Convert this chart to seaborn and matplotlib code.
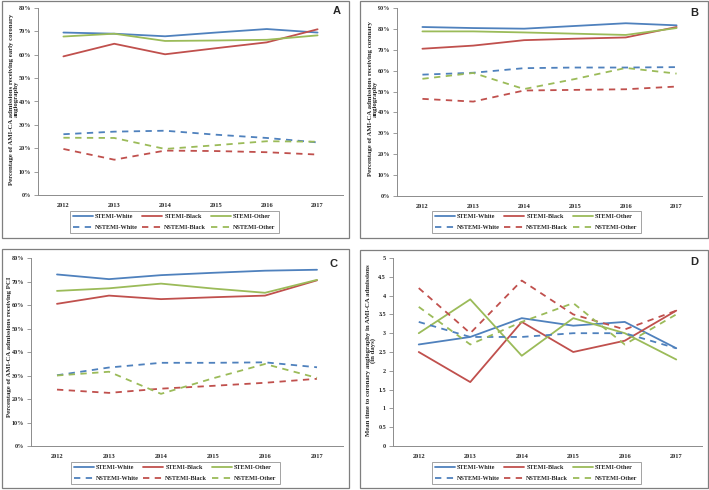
import numpy as np
import pandas as pd
import seaborn as sns
import matplotlib.pyplot as plt
from matplotlib.lines import Line2D
from matplotlib.patches import Rectangle
from matplotlib.ticker import FixedLocator, FuncFormatter

years = [2012, 2013, 2014, 2015, 2016, 2017]
series = ['STEMI-White', 'STEMI-Black', 'STEMI-Other',
          'NSTEMI-White', 'NSTEMI-Black', 'NSTEMI-Other']

# Panel A - early coronary angiography (%)
a_stemi_white = [69.5, 69.0, 67.9, 69.5, 71.0, 69.5]
a_stemi_black = [59.3, 64.7, 60.2, 62.8, 65.3, 70.9]
a_stemi_other = [67.8, 69.0, 65.9, 66.1, 66.4, 68.3]
a_nstemi_white = [26.0, 27.1, 27.5, 25.8, 24.4, 22.5]
a_nstemi_black = [19.7, 15.1, 19.0, 18.8, 18.3, 17.3]
a_nstemi_other = [24.5, 24.4, 19.7, 21.3, 23.0, 22.8]

# Panel B - coronary angiography (%)
b_stemi_white = [80.9, 80.4, 80.1, 81.4, 82.7, 81.7]
b_stemi_black = [70.5, 72.0, 74.6, 75.3, 75.9, 80.9]
b_stemi_other = [78.8, 78.8, 78.3, 77.7, 77.1, 80.4]
b_nstemi_white = [58.1, 59.0, 61.2, 61.5, 61.5, 61.7]
b_nstemi_black = [46.5, 45.2, 50.5, 50.8, 51.1, 52.4]
b_nstemi_other = [56.1, 58.9, 51.2, 56.0, 61.3, 58.6]

# Panel C - PCI (%)
c_stemi_white = [73.0, 71.0, 72.7, 73.7, 74.6, 75.0]
c_stemi_black = [60.5, 64.0, 62.5, 63.3, 64.0, 70.5]
c_stemi_other = [66.0, 67.1, 69.1, 67.0, 65.2, 70.7]
c_nstemi_white = [30.1, 33.4, 35.4, 35.4, 35.6, 33.5]
c_nstemi_black = [24.0, 22.6, 24.4, 25.6, 26.9, 28.6]
c_nstemi_other = [30.0, 31.6, 22.2, 28.8, 34.9, 29.0]

# Panel D - mean time to angiography (days)
d_stemi_white = [2.7, 2.9, 3.4, 3.2, 3.3, 2.6]
d_stemi_black = [2.5, 1.7, 3.3, 2.5, 2.8, 3.6]
d_stemi_other = [3.0, 3.9, 2.4, 3.4, 3.0, 2.3]
d_nstemi_white = [3.3, 2.9, 2.9, 3.0, 3.0, 2.6]
d_nstemi_black = [4.2, 3.0, 4.4, 3.5, 3.1, 3.6]
d_nstemi_other = [3.7, 2.7, 3.3, 3.8, 2.7, 3.5]

ylabels = {
    'A': 'Percentage of AMI-CA admissions receiving early coronary\nangiography',
    'B': 'Percentage of AMI-CA admissions receiving coronary\nangiography',
    'C': 'Percentage of AMI-CA admissions receiving PCI',
    'D': 'Mean time to coronary angiography in AMI-CA admissions\n(in days)',
}

palette = {'STEMI-White': '#4F81BD', 'STEMI-Black': '#C0504D', 'STEMI-Other': '#9BBB59',
           'NSTEMI-White': '#4F81BD', 'NSTEMI-Black': '#C0504D', 'NSTEMI-Other': '#9BBB59'}
dash_map = {'STEMI-White': '', 'STEMI-Black': '', 'STEMI-Other': '',
            'NSTEMI-White': (3.5, 3), 'NSTEMI-Black': (3.5, 3), 'NSTEMI-Other': (3.5, 3)}


def make_df(vals):
    rows = []
    for name, v in zip(series, vals):
        for yr, val in zip(years, v):
            rows.append({'year': yr, 'value': val, 'series': name})
    return pd.DataFrame(rows)


panels = {
    'A': make_df([a_stemi_white, a_stemi_black, a_stemi_other, a_nstemi_white, a_nstemi_black, a_nstemi_other]),
    'B': make_df([b_stemi_white, b_stemi_black, b_stemi_other, b_nstemi_white, b_nstemi_black, b_nstemi_other]),
    'C': make_df([c_stemi_white, c_stemi_black, c_stemi_other, c_nstemi_white, c_nstemi_black, c_nstemi_other]),
    'D': make_df([d_stemi_white, d_stemi_black, d_stemi_other, d_nstemi_white, d_nstemi_black, d_nstemi_other]),
}

sns.set_style('white')
plt.rcParams['font.family'] = ['Liberation Serif', 'DejaVu Serif']
plt.rcParams['font.weight'] = 'bold'

W, H = 709, 490
fig = plt.figure(figsize=(W / 100, H / 100), dpi=100)


def fx(px):
    return px / W


def fy(py):
    return 1 - py / H


# pixel layout: axes (left, right, top, bottom), box, legend centre, label centre, letter
layout = {
    'A': dict(ax=(38, 343, 8, 195), box=(2, 349, 1, 238), leg=(174, 222), lab=(14, 99), let=(337, 11)),
    'B': dict(ax=(397, 702, 8, 196), box=(360, 708, 1, 238), leg=(536, 222), lab=(373, 99), let=(694, 13)),
    'C': dict(ax=(31, 343, 258, 446), box=(2, 349, 249, 488), leg=(175, 473), lab=(10, 347), let=(334, 264)),
    'D': dict(ax=(393, 702, 258, 446), box=(360, 708, 250, 488), leg=(536, 473), lab=(371, 350), let=(694, 262)),
}

grey = '#8c8c8c'

for key, df in panels.items():
    L = layout[key]
    l, r, t, b = L['ax']
    ax = fig.add_axes([fx(l), fy(b), (r - l) / W, (b - t) / H])
    sns.lineplot(data=df, x='year', y='value', hue='series', style='series',
                 hue_order=series, style_order=series, palette=palette,
                 dashes=dash_map, linewidth=1.3, legend=False, ax=ax)

    ax.set_xlim(2011.5, 2017.5)
    if key == 'D':
        ax.set_ylim(0, 5)
        ax.yaxis.set_major_locator(FixedLocator(np.arange(0, 5.01, 0.5)))
        ax.yaxis.set_major_formatter(FuncFormatter(lambda v, p: f'{v:g}'))
    else:
        top = 90 if key == 'B' else 80
        ax.set_ylim(0, top)
        ax.yaxis.set_major_locator(FixedLocator(np.arange(0, top + 1, 10)))
        ax.yaxis.set_major_formatter(FuncFormatter(lambda v, p: f'{v:.0f}%'))

    ax.set_xticks(years)
    ax.set_xticklabels([str(y) for y in years])
    ax.set_xticks(np.arange(2011.5, 2018, 1), minor=True)
    ax.tick_params(axis='x', which='major', length=0, pad=6, labelsize=4.6)
    ax.tick_params(axis='x', which='minor', length=3, width=0.6, color=grey, direction='out')
    ax.tick_params(axis='y', which='major', length=3, width=0.6, color=grey, direction='out',
                   left=True, pad=2, labelsize=4.4)
    ax.set_xlabel('')
    ax.set_ylabel('')
    for s in ['top', 'right']:
        ax.spines[s].set_visible(False)
    for s in ['left', 'bottom']:
        ax.spines[s].set_color(grey)
        ax.spines[s].set_linewidth(0.7)

    fig.text(fx(L['lab'][0]), fy(L['lab'][1]), ylabels[key], rotation=90,
             ha='center', va='center', multialignment='center', linespacing=1.0,
             fontsize=4.9, fontweight='bold')
    fig.text(fx(L['let'][0]), fy(L['let'][1]), key, ha='center', va='center',
             fontsize=8, fontweight='bold', family='Liberation Sans')

    handles = []
    for name in ['STEMI-White', 'NSTEMI-White', 'STEMI-Black', 'NSTEMI-Black',
                 'STEMI-Other', 'NSTEMI-Other']:
        ls = '-' if dash_map[name] == '' else (0, dash_map[name])
        handles.append(Line2D([], [], color=palette[name], lw=1.3, linestyle=ls, label=name))
    leg = ax.legend(handles=handles, ncol=3, loc='center',
                    bbox_to_anchor=(fx(L['leg'][0]), fy(L['leg'][1])),
                    bbox_transform=fig.transFigure, fontsize=4.5, frameon=True,
                    fancybox=False, handlelength=3.2, handletextpad=0.3,
                    columnspacing=0.8, labelspacing=0.9, borderpad=0.5)
    leg.get_frame().set_edgecolor(grey)
    leg.get_frame().set_linewidth(0.7)

    bx0, bx1, by0, by1 = L['box']
    fig.patches.append(Rectangle((fx(bx0), fy(by1)), (bx1 - bx0) / W, (by1 - by0) / H,
                                 transform=fig.transFigure, fill=False,
                                 edgecolor='#7f7f7f', linewidth=0.9))

fig.savefig('out.png', dpi=100)
